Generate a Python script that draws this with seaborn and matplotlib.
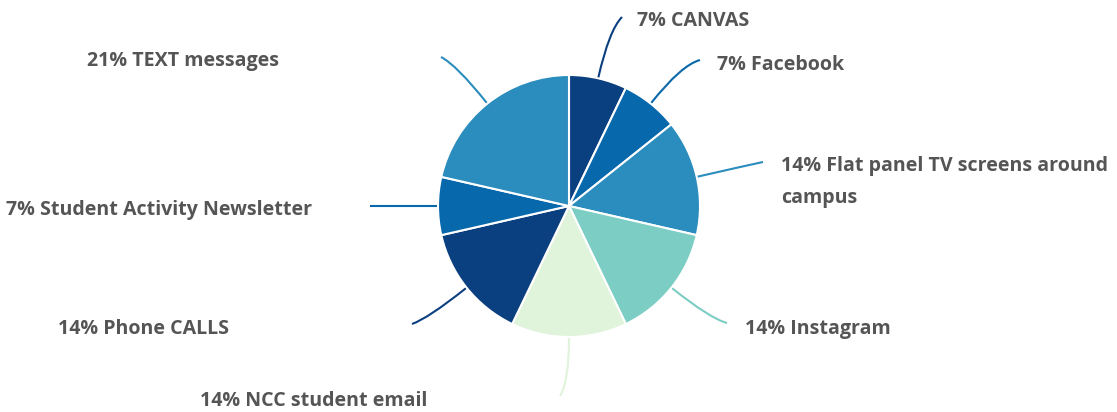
import numpy as np
import matplotlib
matplotlib.use("Agg")
import matplotlib.pyplot as plt
import seaborn as sns
from matplotlib.path import Path
from matplotlib.patches import PathPatch

# ---- data ----
categories = ["CANVAS", "Facebook", "Flat panel TV screens around\ncampus", "Instagram",
              "NCC student email", "Phone CALLS", "Student Activity Newsletter", "TEXT messages"]
counts = [1, 1, 2, 2, 2, 2, 1, 3]
percent_labels = ["7%", "7%", "14%", "14%", "14%", "14%", "7%", "21%"]
colors = ["#0a3f80", "#0868ac", "#2b8cbe", "#7ccdc4", "#e0f3db",
          "#0a3f80", "#0868ac", "#2b8cbe"]

# ---- layout (pixel-like coordinates, y up) ----
W, H = 1117, 412
cx, cy, R = 569, H - 206, 131
# end point of each leader line (x, y_from_top)
line_end = [(622, 17), (700, 60), (763, 162), (727, 323),
            (560, 396), (412, 324), (370, 206), (441, 57)]
# text anchor (x, y_from_top, ha)
text_pos = [(637, 21, "left"), (717, 65, "left"), (781, 182, "left"), (745, 329, "left"),
            (427, 401, "right"), (229, 329, "right"), (312, 210, "right"), (279, 61, "right")]

sns.set_theme(style="white")
plt.rcParams["font.family"] = ["Open Sans", "DejaVu Sans"]

fig = plt.figure(figsize=(W / 100, H / 100), dpi=100)
ax = fig.add_axes([0, 0, 1, 1])

wedges, _ = ax.pie(counts, colors=colors, startangle=90, counterclock=False,
                   center=(cx, cy), radius=R, frame=True,
                   wedgeprops=dict(edgecolor="white", linewidth=1.5))
ax.set_xlim(0, W)
ax.set_ylim(0, H)
ax.set_aspect("equal")
ax.axis("off")

for w, col, (ex, ey), (tx, ty, ha), pct, cat in zip(wedges, colors, line_end, text_pos,
                                                     percent_labels, categories):
    mid = np.deg2rad((w.theta1 + w.theta2) / 2)
    d = np.array([np.cos(mid), np.sin(mid)])
    start = np.array([cx, cy]) + d * (R + 1)
    end = np.array([ex, H - ey])
    dist = np.linalg.norm(end - start)
    ctrl = start + d * dist * 0.75
    path = Path([start, ctrl, end], [Path.MOVETO, Path.CURVE3, Path.CURVE3])
    ax.add_patch(PathPatch(path, facecolor="none", edgecolor=col, linewidth=1.5))
    ax.text(tx, H - ty, f"{pct} {cat}", ha=ha, va="center", fontsize=14.1,
            fontweight="bold", color="#555555", linespacing=1.85)

fig.savefig("out.png", dpi=100)
